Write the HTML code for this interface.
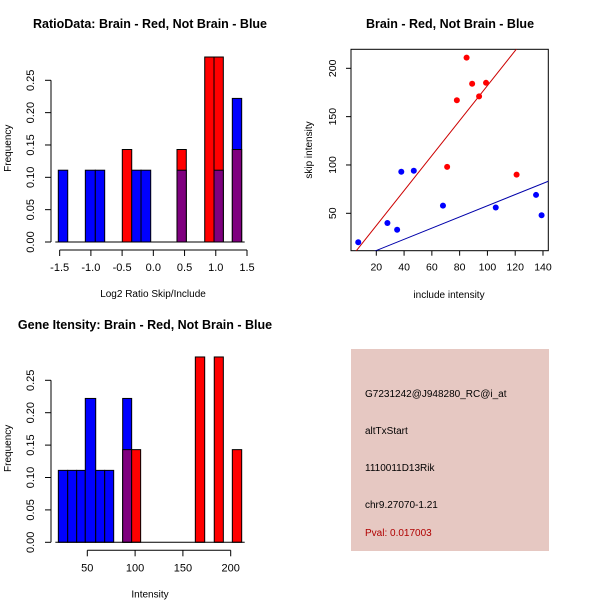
<!DOCTYPE html>
<html><head><meta charset="utf-8"><style>
body{margin:0;background:#fff}
svg text{font-family:"Liberation Sans",sans-serif;fill:#000}
</style></head><body>
<svg id="c" width="600" height="600" xmlns="http://www.w3.org/2000/svg">
<rect width="600" height="600" fill="#fff"/>
<g id="p1"></g>
<g id="p2"></g>
<g id="p3"></g>
<g id="p4">
<rect x="351" y="349" width="198" height="202" fill="#E6C8C2"/>
<text x="365" y="397" font-size="10">G7231242@J948280_RC@i_at</text>
<text x="365" y="434" font-size="10">altTxStart</text>
<text x="365" y="471" font-size="10">1110011D13Rik</text>
<text x="365" y="508" font-size="10">chr9.27070-1.21</text>
<text x="365" y="536" font-size="10" style="fill:#B00000">Pval: 0.017003</text>
</g>
</svg>
<script>
// Panel 1 data
const h1Starts=[-1.522,-1.089,-0.929,-0.497,-0.346,-0.197,0.379,0.823,0.972,1.265];
const h1Ends=[-1.371,-0.929,-0.779,-0.346,-0.197,-0.042,0.528,0.972,1.121,1.415];
const h1Blue=[0.111,0.111,0.111,0,0.111,0.111,0.111,0,0.111,0.222];
const h1Red=[0,0,0,0.143,0,0,0.143,0.286,0.286,0.143];
const h1XTicks=[-1.5,-1.0,-0.5,0.0,0.5,1.0,1.5];
const h1YTicks=[0,0.05,0.10,0.15,0.20,0.25];
// Panel 2 data
const redInc=[85,89,99,94,78,71,121];
const redSkip=[211,184,185,171,167,98,90];
const blueInc=[7,28,35,38,47,68,106,135,139];
const blueSkip=[20,40,33,93,94,58,56,69,48];
const redFit=[1.1,1.81];
const blueFit=[-0.1,0.579];
const p2XTicks=[20,40,60,80,100,120,140];
const p2YTicks=[50,100,150,200];
// Panel 3 data
const h3Starts=[19.7,29.5,38.9,47.9,58.8,68.2,87,96.4,163,182.8,201.7];
const h3Ends=[29.5,38.9,47.9,58.8,68.2,77.6,96.4,105.8,172.8,192.3,211.5];
const h3Blue=[0.111,0.111,0.111,0.222,0.111,0.111,0.222,0,0,0,0];
const h3Red=[0,0,0,0,0,0,0.143,0.143,0.286,0.286,0.143];
const h3XTicks=[50,100,150,200];
const h3YTicks=[0,0.05,0.10,0.15,0.20,0.25];

const NS="http://www.w3.org/2000/svg";
function mk(parent,tag,attrs,text){const e=document.createElementNS(NS,tag);for(const k in attrs)e.setAttribute(k,attrs[k]);if(text!==undefined)e.textContent=text;parent.appendChild(e);return e;}

function hist(g,starts,ends,blue,red,xs,ys,xt,yt,axisY,yAxisX,title,titleX,titleY,xlabel,xlabelX,decimals){
  for(let i=0;i<starts.length;i++){
    const x0=xs(starts[i]),x1=xs(ends[i]);
    const b=blue[i],r=red[i],mx=Math.max(b,r),mn=Math.min(b,r);
    const c=b>=r?'#0000FF':'#FF0000';
    let e=mk(g,'rect',{x:x0,y:ys(mx),width:x1-x0,height:ys(0)-ys(mx),fill:c,stroke:'#000','stroke-width':1});
    
    
    if(mn>0){
      e=mk(g,'rect',{x:x0,y:ys(mn),width:x1-x0,height:ys(0)-ys(mn),fill:'#7F007F',stroke:'#000','stroke-width':1});
      
      
    }
  }
  const bl=mk(g,'line',{x1:xs(Math.min(...starts))-3,x2:xs(Math.max(...ends))+3,y1:ys(0),y2:ys(0),stroke:'#000'});
  
  
  const xa=mk(g,'line',{x1:xs(xt[0]),x2:xs(xt[xt.length-1]),y1:axisY,y2:axisY,stroke:'#000'});
  
  
  xt.forEach(v=>{mk(g,'line',{x1:xs(v),x2:xs(v),y1:axisY,y2:axisY+6,stroke:'#000'});
    const t=mk(g,'text',{x:xs(v),y:axisY+21,'font-size':11,'text-anchor':'middle'},v.toFixed(decimals));
    
    });
  const ya=mk(g,'line',{x1:yAxisX,x2:yAxisX,y1:ys(yt[0]),y2:ys(yt[yt.length-1]),stroke:'#000'});
  
  
  yt.forEach(v=>{mk(g,'line',{x1:yAxisX-6,x2:yAxisX,y1:ys(v),y2:ys(v),stroke:'#000'});
    const t=mk(g,'text',{x:0,y:0,'font-size':11,'text-anchor':'middle',transform:`translate(${yAxisX-17},${ys(v)}) rotate(-90)`},v.toFixed(2));
    
    });
  let t=mk(g,'text',{x:titleX,y:titleY,'font-size':12.5,'font-weight':'bold','text-anchor':'middle'},title);
  
  
  t=mk(g,'text',{x:xlabelX,y:axisY+47,'font-size':10,'text-anchor':'middle'},xlabel);
  
  
  t=mk(g,'text',{x:0,y:0,'font-size':10,'text-anchor':'middle',transform:`translate(11,${ys(0.145)}) rotate(-90)`},'Frequency');
  
  
}

// panel 1
{
  const xs=v=>59.67+(v+1.5)*62.44, ys=f=>242-f/0.05*32.34;
  const g=document.getElementById('p1');
  hist(g,h1Starts,h1Ends,h1Blue,h1Red,xs,ys,h1XTicks,h1YTicks,250,51,'RatioData: Brain - Red, Not Brain - Blue',150,28,'Log2 Ratio Skip/Include',153,1);
}
// panel 3
{
  const xs=v=>87.3+(v-50)*0.956, ys=f=>542.3-f/0.05*32.4;
  const g=document.getElementById('p3');
  hist(g,h3Starts,h3Ends,h3Blue,h3Red,xs,ys,h3XTicks,h3YTicks,550.3,51,'Gene Itensity: Brain - Red, Not Brain - Blue',145,329,'Intensity',150,0);
}

// panel 2
{
  const g=document.getElementById('p2');
  const L=351,T=49.3,R=548.3,B=250.7;
  const xs=v=>376.3+(v-20)*27.78/20, ys=v=>213.3-(v-50)*48.33/50;
  const cp=mk(g,'clipPath',{id:'clip2'});mk(cp,'rect',{x:L,y:T,width:R-L,height:B-T});
  const box=mk(g,'rect',{x:L,y:T,width:R-L,height:B-T,fill:'none',stroke:'#000'});
  
  
  const xmin=0,xmax=150;
  let l=mk(g,'line',{x1:xs(xmin),y1:ys(redFit[0]+redFit[1]*xmin),x2:xs(xmax),y2:ys(redFit[0]+redFit[1]*xmax),stroke:'#CC0000','clip-path':'url(#clip2)'});
  
  
  l=mk(g,'line',{x1:xs(xmin),y1:ys(blueFit[0]+blueFit[1]*xmin),x2:xs(xmax),y2:ys(blueFit[0]+blueFit[1]*xmax),stroke:'#0000AA','clip-path':'url(#clip2)'});
  
  
  redInc.forEach((v,i)=>{const c=mk(g,'circle',{cx:xs(v),cy:ys(redSkip[i]),r:3,fill:'#FF0000'});
    
    });
  blueInc.forEach((v,i)=>{const c=mk(g,'circle',{cx:xs(v),cy:ys(blueSkip[i]),r:3,fill:'#0000FF'});
    
    });
  p2XTicks.forEach(v=>{mk(g,'line',{x1:xs(v),x2:xs(v),y1:B,y2:B+5,stroke:'#000'});
    const t=mk(g,'text',{x:xs(v),y:B+20,'font-size':10.5,'text-anchor':'middle'},v);
    
    });
  p2YTicks.forEach(v=>{mk(g,'line',{x1:L-5,x2:L,y1:ys(v),y2:ys(v),stroke:'#000'});
    const t=mk(g,'text',{x:0,y:0,'font-size':10.5,'text-anchor':'middle',transform:`translate(${L-15},${ys(v)}) rotate(-90)`},v);
    
    });
  let t=mk(g,'text',{x:450,y:28,'font-size':12.5,'font-weight':'bold','text-anchor':'middle'},'Brain - Red, Not Brain - Blue');
  
  
  t=mk(g,'text',{x:449,y:298,'font-size':10,'text-anchor':'middle'},'include intensity');
  
  
  t=mk(g,'text',{x:0,y:0,'font-size':10,'text-anchor':'middle',transform:'translate(312,150) rotate(-90)'},'skip intensity');
  
  
}
</script>
</body></html>
